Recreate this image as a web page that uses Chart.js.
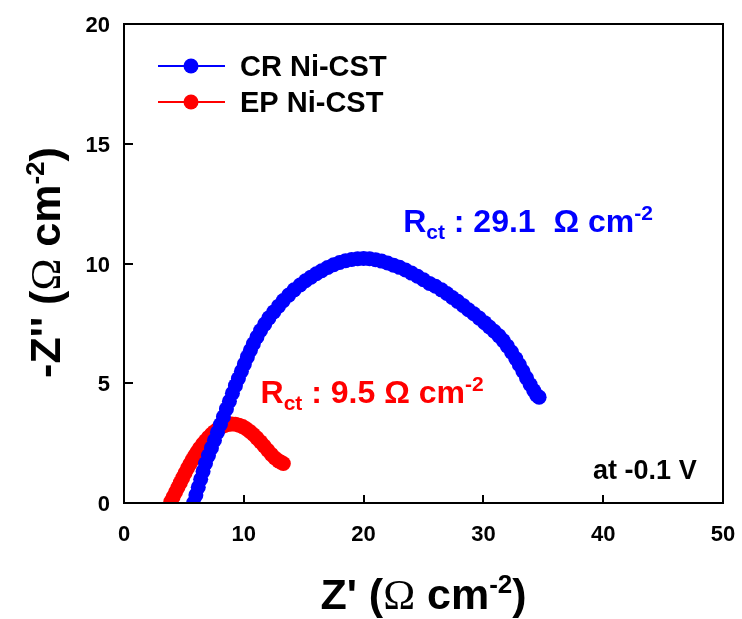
<!DOCTYPE html>
<html><head><meta charset="utf-8">
<script src="https://cdn.jsdelivr.net/npm/chart.js@4.4.1/dist/chart.umd.min.js"></script>
<style>html,body{margin:0;padding:0;background:#fff}#wrap{width:742px;height:619px;position:relative}</style>
</head><body><div id="wrap"><canvas id="c" width="742" height="619"></canvas></div>
<script>
// ---- data ----
const seriesNames = ['CR Ni-CST', 'EP Ni-CST'];
const seriesColors = ['#0000ff', '#ff0000'];
const crX = [5.8,6.0,6.2,6.4,6.6,6.8,7.05,7.3,7.55,7.8,8.05,8.3,8.55,8.8,9.05,9.3,9.55,9.8,10.05,10.3,10.55,10.8,11.1,11.4,11.75,12.1,12.5,12.9,13.3,
  13.75,14.2,14.7,15.15,15.6,16.05,16.5,17.0,17.5,18.0,18.5,19.0,19.5,20.0,20.5,21.0,21.5,22.0,22.5,23.0,23.5,24.0,24.5,25.0,25.5,26.0,26.5,
  26.95,27.4,27.85,28.3,28.75,29.2,29.65,30.1,30.5,30.9,31.3,31.65,32.0,32.35,32.7,33.0,33.3,33.6,33.9,34.2,34.45,34.65];
const crY = [0.0,0.33,0.66,0.99,1.32,1.65,1.98,2.3,2.62,2.95,3.28,3.6,3.93,4.25,4.58,4.9,5.2,5.5,5.8,6.1,6.38,6.65,6.93,7.2,7.47,7.73,7.98,8.22,8.45,
  8.68,8.9,9.1,9.28,9.43,9.57,9.7,9.83,9.95,10.04,10.12,10.17,10.2,10.21,10.2,10.16,10.1,10.02,9.93,9.84,9.73,9.6,9.47,9.32,9.17,9.05,8.9,
  8.75,8.58,8.42,8.25,8.07,7.9,7.72,7.53,7.35,7.17,6.98,6.78,6.55,6.3,6.03,5.77,5.5,5.22,4.95,4.7,4.5,4.42];
const epX = [3.9,4.1,4.3,4.5,4.7,4.9,5.1,5.3,5.5,5.7,5.9,6.1,6.3,6.55,6.8,7.05,7.3,7.55,7.8,8.1,8.4,8.7,9.0,9.3,9.6,9.9,10.2,10.5,10.8,11.1,11.4,11.7,12.0,12.3,12.6,12.9,13.1,13.3];
const epY = [0.05,0.25,0.45,0.65,0.85,1.05,1.25,1.45,1.63,1.8,1.97,2.13,2.28,2.45,2.6,2.74,2.87,2.98,3.08,3.17,3.24,3.28,3.3,3.29,3.25,3.19,3.1,2.99,2.86,2.71,2.55,2.38,2.2,2.03,1.88,1.76,1.7,1.65];
const xTicks = [0,10,20,30,40,50];
const yTicks = [0,5,10,15,20];
const rctLabels = ['29.1', '9.5'];
const condition = 'at -0.1 V';

const FAM = "'Liberation Sans', Arial, sans-serif";
const B = s => `bold ${s}px ${FAM}`;

function zip(xs, ys){ return xs.map((x,i)=>({x, y: ys[i]})); }

function drawRich(ctx, parts, x, y, align){
  let w = 0;
  for (const p of parts){ ctx.font = p[1]; w += ctx.measureText(p[0]).width; }
  let cx = align === 'center' ? x - w/2 : (align === 'right' ? x - w : x);
  ctx.textAlign = 'left'; ctx.textBaseline = 'alphabetic';
  for (const p of parts){ ctx.font = p[1]; ctx.fillText(p[0], cx, y + (p[2]||0)); cx += ctx.measureText(p[0]).width; }
}

const decor = {
  id: 'decor',
  afterDraw(chart){
    const ctx = chart.ctx, a = chart.chartArea, xs = chart.scales.x, ys = chart.scales.y;
    ctx.save();
    // frame
    ctx.strokeStyle = '#000'; ctx.lineWidth = 2;
    ctx.strokeRect(a.left, a.top, a.right - a.left, a.bottom - a.top);
    // inward ticks
    ctx.beginPath();
    xTicks.forEach(v => { const px = Math.round(xs.getPixelForValue(v)); ctx.moveTo(px, a.bottom); ctx.lineTo(px, a.bottom - 8); });
    yTicks.forEach(v => { const py = Math.round(ys.getPixelForValue(v)); ctx.moveTo(a.left, py); ctx.lineTo(a.left + 9, py); });
    ctx.stroke();
    // legend
    chart.data.datasets.forEach((ds, i) => {
      const ry = a.top + 42 + i * 36;
      ctx.strokeStyle = ds.borderColor; ctx.lineWidth = 2;
      ctx.beginPath(); ctx.moveTo(a.left + 34, ry); ctx.lineTo(a.left + 101, ry); ctx.stroke();
      ctx.fillStyle = ds.borderColor;
      ctx.beginPath(); ctx.arc(a.left + 67, ry, 7.5, 0, Math.PI*2); ctx.fill();
      ctx.fillStyle = '#000'; ctx.font = B(29); ctx.textAlign = 'left'; ctx.textBaseline = 'middle';
      ctx.fillText(ds.label, a.left + 116, ry + 2);
    });
    // Rct annotations
    ctx.fillStyle = seriesColors[0];
    drawRich(ctx, [['R', B(32)], ['ct', B(21), 7], [' : ' + rctLabels[0] + '  \u03A9 cm', B(32)], ['-2', B(21), -12]],
      xs.getPixelForValue(23.3), ys.getPixelForValue(11.3), 'left');
    ctx.fillStyle = seriesColors[1];
    drawRich(ctx, [['R', B(32)], ['ct', B(21), 7], [' : ' + rctLabels[1] + ' \u03A9 cm', B(32)], ['-2', B(21), -12]],
      xs.getPixelForValue(11.4), ys.getPixelForValue(4.19), 'left');
    ctx.fillStyle = '#000';
    drawRich(ctx, [[condition, B(27)]], xs.getPixelForValue(47.8), ys.getPixelForValue(1.0), 'right');
    // x title
    const T = 43, S = 26;
    const omegaFont = `${T}px 'Liberation Serif', 'Times New Roman', serif`;
    drawRich(ctx, [["Z' (", B(T)], ['\u03A9', omegaFont], [' cm', B(T)], ['-2', B(S), -16], [')', B(T)]],
      (a.left + a.right)/2, 609, 'center');
    // y title
    ctx.save();
    ctx.translate(60, (a.top + a.bottom)/2 - 1);
    ctx.rotate(-Math.PI/2);
    drawRich(ctx, [["-Z'' (", B(T)], ['\u03A9', omegaFont], [' cm', B(T)], ['-2', B(S), -16], [')', B(T)]], 0, 0, 'center');
    ctx.restore();
    ctx.restore();
  }
};

new Chart(document.getElementById('c'), {
  type: 'scatter',
  data: {
    datasets: [
      { label: seriesNames[0], data: zip(crX, crY), borderColor: seriesColors[0], backgroundColor: seriesColors[0],
        showLine: true, borderWidth: 2, pointRadius: 7.5, pointBorderWidth: 0, pointBackgroundColor: seriesColors[0] },
      { label: seriesNames[1], data: zip(epX, epY), borderColor: seriesColors[1], backgroundColor: seriesColors[1],
        showLine: true, borderWidth: 2, pointRadius: 7.5, pointBorderWidth: 0, pointBackgroundColor: seriesColors[1] }
    ]
  },
  options: {
    responsive: false, animation: false, devicePixelRatio: 1,
    layout: { padding: { left: 0, top: 24, right: 19, bottom: 0 } },
    plugins: { legend: { display: false }, tooltip: { enabled: false } },
    scales: {
      x: {
        type: 'linear', position: 'bottom', min: 0, max: 50,
        afterBuildTicks: s => { s.ticks = xTicks.map(v => ({ value: v })); },
        ticks: { font: { family: FAM, size: 22, weight: 'bold' }, color: '#000', padding: 19, maxRotation: 0 },
        grid: { display: false, drawTicks: false }, border: { display: false },
        afterFit: s => { s.height = 116; s.paddingLeft = 0; s.paddingRight = 0; }
      },
      y: {
        type: 'linear', position: 'left', min: 0, max: 20,
        afterBuildTicks: s => { s.ticks = yTicks.map(v => ({ value: v })); },
        ticks: { font: { family: FAM, size: 22, weight: 'bold' }, color: '#000', padding: 14, labelOffset: 2 },
        grid: { display: false, drawTicks: false }, border: { display: false },
        afterFit: s => { s.width = 124; s.paddingTop = 0; s.paddingBottom = 0; }
      }
    }
  },
  plugins: [decor]
});
</script></body></html>
